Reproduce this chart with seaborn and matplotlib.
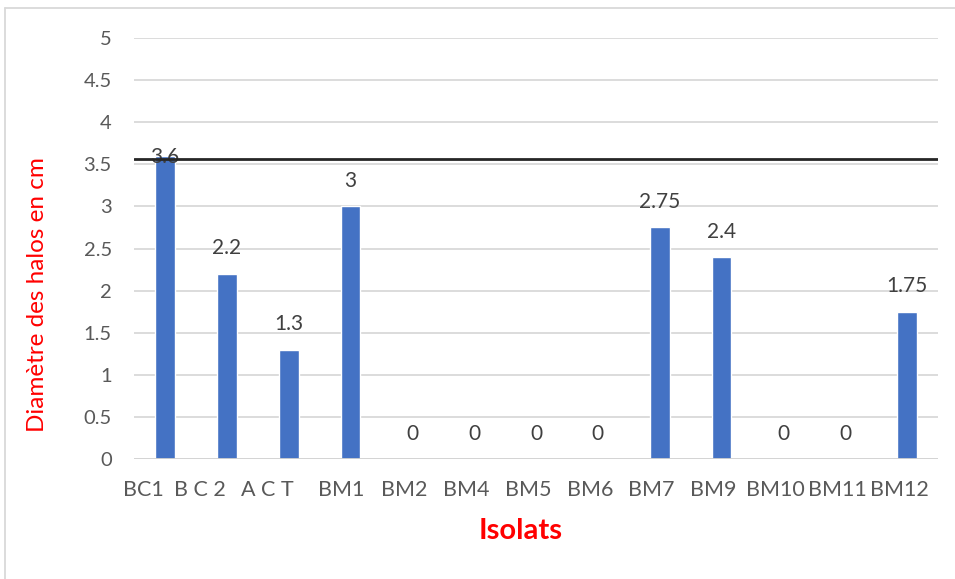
import matplotlib
matplotlib.use("Agg")
import matplotlib.pyplot as plt
import matplotlib.transforms as mtransforms
from matplotlib.lines import Line2D
import seaborn as sns
import pandas as pd

# Halo diameters measured for each isolate
isolats = ["BC1", "B C 2", "A C T", "BM1", "BM2", "BM4", "BM5", "BM6",
           "BM7", "BM9", "BM10", "BM11", "BM12"]
diametres = [3.6, 2.2, 1.3, 3.0, 0, 0, 0, 0, 2.75, 2.4, 0, 0, 1.75]
seuil = 3.56
y_ticks = [0, 0.5, 1, 1.5, 2, 2.5, 3, 3.5, 4, 4.5, 5]

df = pd.DataFrame({"Isolats": isolats, "Diametre": diametres})

sns.set_theme(style="white")
plt.rcParams["font.family"] = ["Lato", "DejaVu Sans"]

fig = plt.figure(figsize=(9.55, 5.79), dpi=100)
ax = fig.add_axes([134 / 955, 1 - 459 / 579, (938 - 134) / 955, (459 - 38) / 579])

sns.barplot(data=df, x="Isolats", y="Diametre", color="#4472C4",
            saturation=1, width=0.32, ax=ax, zorder=3)

ax.set_ylim(0, 5)
ax.set_xlim(-0.5, len(isolats) - 0.5)
ax.set_yticks(y_ticks)
ax.set_yticklabels([f"{t:g}" for t in y_ticks])

# gridlines and baseline
for t in y_ticks[1:]:
    ax.axhline(t, color="#d9d9d9", lw=1.3, zorder=1)
ax.axhline(0, color="#d0d0d0", lw=1.3, zorder=4)
ax.axhline(seuil, color="#262626", lw=2, zorder=6)

for s in ax.spines.values():
    s.set_visible(False)

ax.tick_params(axis="y", length=0, pad=16, labelsize=14.5, labelcolor="#595959")
ax.tick_params(axis="x", length=0, pad=15, labelsize=15.5, labelcolor="#595959")

# nudge category labels to the left
shifts_px = [-22, -27, -21, -9] + [-8] * 9
for lab, dx in zip(ax.get_xticklabels(), shifts_px):
    off = mtransforms.ScaledTranslation(dx / 100, 0, fig.dpi_scale_trans)
    lab.set_transform(lab.get_transform() + off)

# value labels
for i, v in enumerate(diametres):
    dy = -8 if i == 0 else 11
    ax.annotate(f"{v:g}", (i, v), xytext=(0, dy), textcoords="offset points",
                ha="center", va="bottom", fontsize=15, color="#404040", zorder=5)

ax.set_xlabel("Isolats", color="red", fontsize=21, fontweight="bold")
ax.xaxis.set_label_coords((521 - 134) / (938 - 134), -(531 - 459) / (459 - 38))
ax.set_ylabel("Diamètre des halos en cm", color="red", fontsize=17.5)
ax.yaxis.set_label_coords(-(134 - 38) / (938 - 134), (459 - 295) / (459 - 38))
ax.xaxis.label.set_va("center")
ax.yaxis.label.set_va("center")

# chart area border
fig.add_artist(Line2D([4.5 / 955, 4.5 / 955], [0, 1 - 7.5 / 579], color="#d9d9d9",
                      lw=1.3, transform=fig.transFigure))
fig.add_artist(Line2D([4.5 / 955, 1], [1 - 7.5 / 579, 1 - 7.5 / 579], color="#d9d9d9",
                      lw=1.3, transform=fig.transFigure))

fig.savefig("out.png", dpi=100)
